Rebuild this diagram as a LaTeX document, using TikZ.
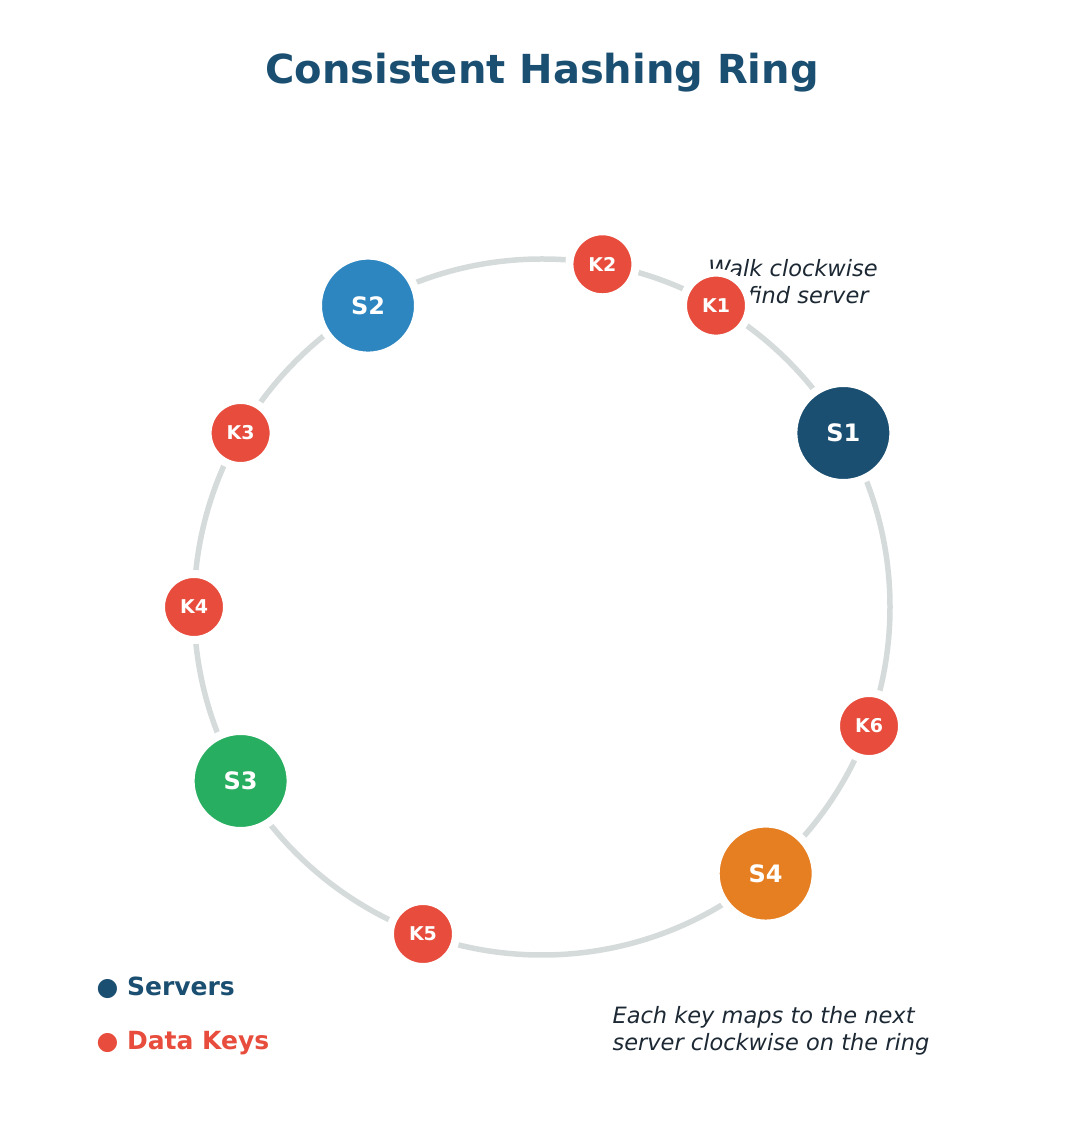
\documentclass[tikz,border=0pt]{standalone}
\usepackage{fontspec}
\setmainfont{DejaVu Sans}
\definecolor{titleblue}{HTML}{1B4F72}
\definecolor{sone}{HTML}{1B4F72}
\definecolor{stwo}{HTML}{2E86C1}
\definecolor{sthree}{HTML}{27AE60}
\definecolor{sfour}{HTML}{E67E22}
\definecolor{keyred}{HTML}{E74C3C}
\definecolor{ringgray}{HTML}{D5DBDB}
\definecolor{notetext}{HTML}{1C2833}
\begin{document}
\begin{tikzpicture}[x=1pt,y=1pt,
    server/.style={circle,draw=white,line width=8pt,minimum size=100pt,inner sep=0pt,
      text=white,font=\fontsize{24}{24}\selectfont\bfseries},
    datakey/.style={circle,draw=white,line width=8pt,minimum size=66pt,inner sep=0pt,
      fill=keyred,text=white,font=\fontsize{19}{19}\selectfont\bfseries},
    note/.style={text=notetext,font=\fontsize{22.5}{27}\selectfont\itshape}]
  \useasboundingbox (0,0) rectangle (1084,1146);
  \node[text=titleblue,font=\fontsize{40}{48}\selectfont\bfseries] (title) at (542,1073) {Consistent Hashing Ring};
  \node[note,align=center] (walk) at (793,864) {Walk clockwise\\to find server};
  \node[note,align=left,anchor=west] (maps) at (609,115) {Each key maps to the next\\server clockwise on the ring};
  \node[text=sone,anchor=west,font=\fontsize{25}{25}\selectfont\bfseries] (legs) at (93,158) {● Servers};
  \node[text=keyred,anchor=west,font=\fontsize{25}{25}\selectfont\bfseries] (legk) at (93,103) {● Data Keys};
  \begin{scope}[shift={(542,539)}]
    \draw[ringgray,line width=5.5pt] (0,0) circle (348pt);
    \draw
      (30:348pt) node[server,fill=sone] (s1){S1}
      (120:348pt) node[server,fill=stwo] (s2){S2}
      (210:348pt) node[server,fill=sthree] (s3){S3}
      (310:348pt) node[server,fill=sfour] (s4){S4};
    \draw
      (60:348pt) node[datakey] (k1){K1}
      (80:348pt) node[datakey] (k2){K2}
      (150:348pt) node[datakey] (k3){K3}
      (180:348pt) node[datakey] (k4){K4}
      (250:348pt) node[datakey] (k5){K5}
      (340:348pt) node[datakey] (k6){K6};
  \end{scope}
\end{tikzpicture}
\end{document}
